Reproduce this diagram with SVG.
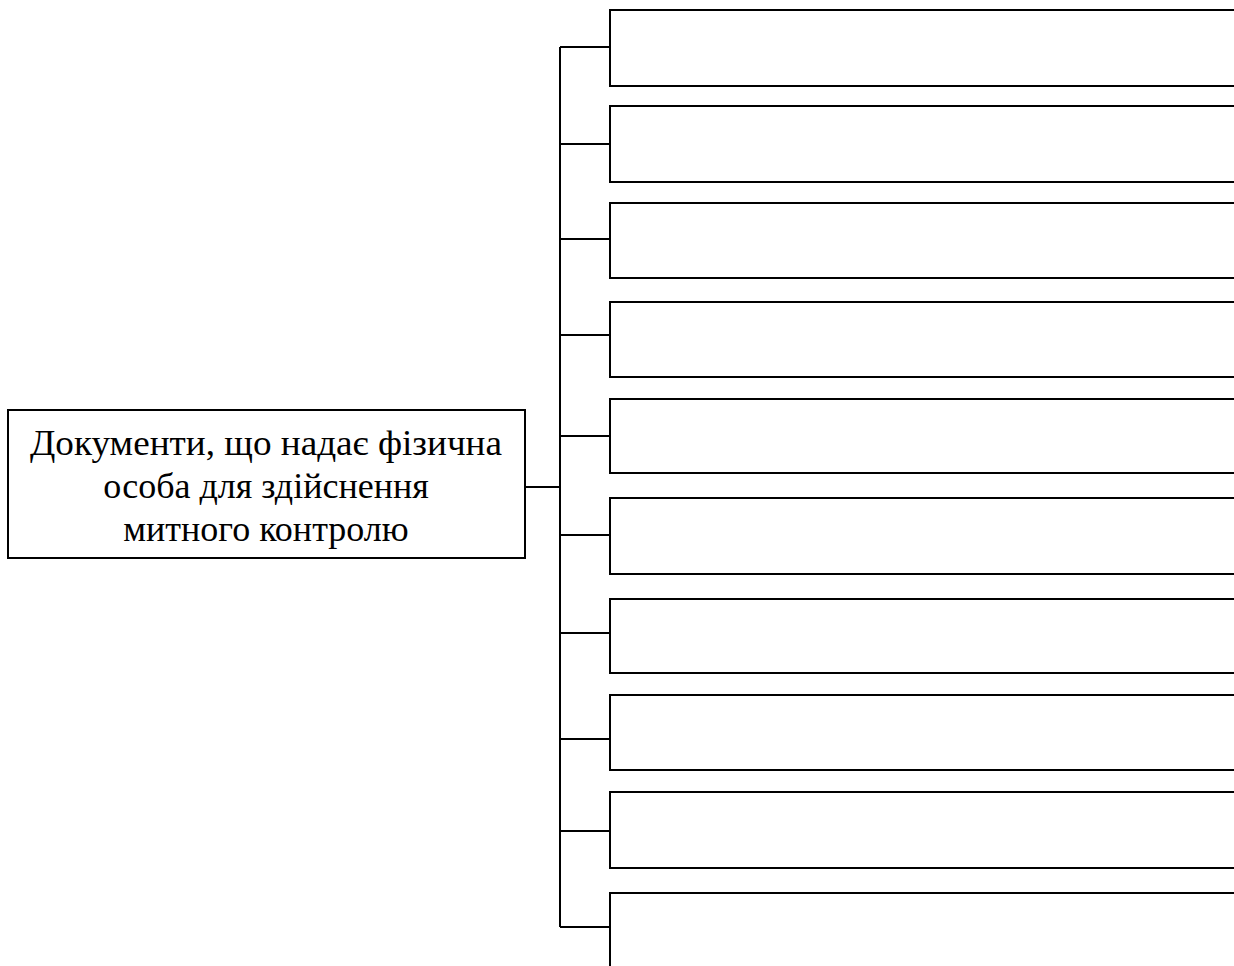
<svg xmlns="http://www.w3.org/2000/svg" width="1234" height="966" viewBox="0 0 1234 966">
<style>
.b{fill:#fff;stroke:#000;stroke-width:2}
.c{fill:none;stroke:#000;stroke-width:2}
.t{font-family:"Liberation Serif","Times New Roman",serif;font-size:36px;fill:#000;text-anchor:middle}
</style>
<rect width="1234" height="966" fill="#fff"/>
<g id="connectors">
<path class="c" d="M525 487H560M560 47V927M560 47H610M560 144H610M560 239H610M560 335H610M560 436H610M560 535H610M560 633H610M560 739H610M560 831H610M560 927H610"/>
</g>
<g id="root">
<rect class="b" x="8" y="410" width="517" height="148"/>
<text class="t" x="266" y="455" textLength="472" lengthAdjust="spacingAndGlyphs">Документи, що надає фізична</text>
<text class="t" x="266" y="498">особа для здійснення</text>
<text class="t" x="266" y="541">митного контролю</text>
</g>
<g id="n1"><rect class="b" x="610" y="10" width="640" height="76"/></g>
<g id="n2"><rect class="b" x="610" y="106" width="640" height="76"/></g>
<g id="n3"><rect class="b" x="610" y="203" width="640" height="75"/></g>
<g id="n4"><rect class="b" x="610" y="302" width="640" height="75"/></g>
<g id="n5"><rect class="b" x="610" y="399" width="640" height="74"/></g>
<g id="n6"><rect class="b" x="610" y="498" width="640" height="76"/></g>
<g id="n7"><rect class="b" x="610" y="599" width="640" height="74"/></g>
<g id="n8"><rect class="b" x="610" y="695" width="640" height="75"/></g>
<g id="n9"><rect class="b" x="610" y="792" width="640" height="76"/></g>
<g id="n10"><rect class="b" x="610" y="893" width="640" height="100"/></g>
</svg>
